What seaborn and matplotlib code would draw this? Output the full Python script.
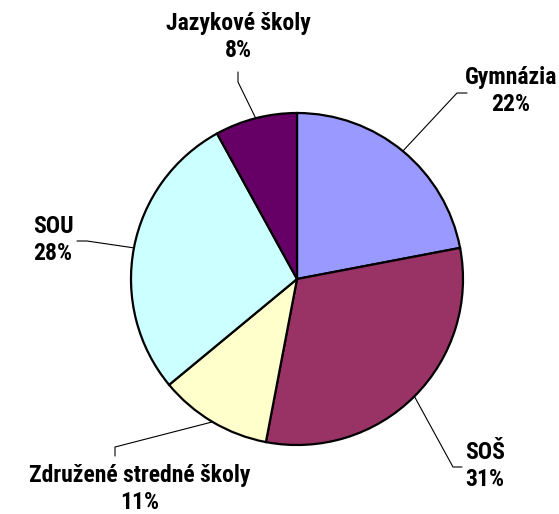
import numpy as np
import matplotlib
matplotlib.use("Agg")
import matplotlib.pyplot as plt
from matplotlib import font_manager
import seaborn as sns

categories = ["Gymnázia", "SOŠ", "Združené stredné školy", "SOU", "Jazykové školy"]
values = [22, 31, 11, 28, 8]
colors = ["#9999FF", "#993366", "#FFFFCC", "#CCFFFF", "#660066"]

sns.set_theme(style="white")
names = {f.name for f in font_manager.fontManager.ttflist}
fam = "Roboto Condensed" if "Roboto Condensed" in names else "Liberation Sans"
plt.rcParams["font.family"] = [fam, "DejaVu Sans"]

W, H = 559, 514
cx, cy, R = 297, 279, 166
fig = plt.figure(figsize=(W / 100, H / 100), dpi=100)
ax = fig.add_axes([0, 0, 1, 1])

def px(x, y):
    return ((x - cx) / R, (cy - y) / R)

wedges, _ = ax.pie(values, colors=colors, startangle=90, counterclock=False,
                   radius=1.0, center=(0, 0), frame=True,
                   wedgeprops=dict(edgecolor="black", linewidth=1.6))
ax.set_xlim(-cx / R, (W - cx) / R)
ax.set_ylim((cy - H) / R, cy / R)
ax.axis("off")

# label layout (pixel positions): elbow, end of leader, text center
layout = {
    "Gymnázia": ((457, 93), (467, 93), (511, 91)),
    "SOŠ": ((453, 467), (462, 467), (485, 466)),
    "Združené stredné školy": ((115, 447), (115, 456), (140, 489)),
    "SOU": ((87, 241), (77, 241), (53, 240)),
    "Jazykové školy": ((238, 82), (238, 72), (238, 37)),
}

total = sum(values)
for w, cat, v in zip(wedges, categories, values):
    ang = np.deg2rad((w.theta1 + w.theta2) / 2)
    elbow, end, tc = layout[cat]
    ex, ey = px(*elbow)
    nx, ny = px(*end)
    ax.plot([np.cos(ang), ex, nx], [np.sin(ang), ey, ny], color="black", lw=0.8)
    tx, ty = px(*tc)
    ax.text(tx, ty, f"{cat}\n{round(100 * v / total)}%", ha="center", va="center",
            fontsize=17, fontweight="bold", linespacing=1.25, color="black")

fig.savefig("out.png", dpi=100)
